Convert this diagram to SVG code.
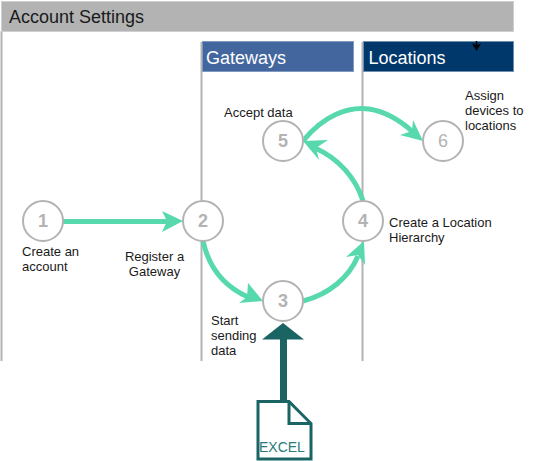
<svg xmlns="http://www.w3.org/2000/svg" width="557" height="461" viewBox="0 0 557 461">
<style>
text{font-family:"Liberation Sans",Arial,sans-serif}
.lane{stroke:#b3b3b3;stroke-width:2;fill:none}
.head{font-size:18px}
.lbl{font-size:13px;fill:#1a1a1a}
.circ{fill:#fff;stroke:#b3b3b3;stroke-width:2}
.num{font-size:18px;font-weight:bold;fill:#b3b3b3;text-anchor:middle}
.flow{fill:none;stroke:#57d9ad;stroke-width:5}
.tip{fill:#57d9ad}
</style>
<rect width="557" height="461" fill="#fff"/>
<g id="lanes">
<path class="lane" d="M1.500 31V361M201.500 42V361M362.500 42V361"/>
</g>
<g id="account-settings">
<rect x="1.500" y="1.500" width="512" height="30" fill="#b3b3b3" stroke="#cfcfcf"/>
<text class="head" x="9" y="23" fill="#1a1a1a">Account Settings</text>
</g>
<g id="gateways">
<rect x="202.500" y="41.500" width="151" height="30" fill="#43669f" stroke="#7f9abf"/>
<text class="head" x="206" y="64" fill="#fff">Gateways</text>
</g>
<g id="locations">
<rect x="363.500" y="41.500" width="150" height="30" fill="#00386b" stroke="#6f8fae"/>
<text class="head" x="368.500" y="64" fill="#fff">Locations</text>
<path d="M472 43.500L476.500 45L481 43.500L476.500 51Z" fill="#000"/>
<path d="M476.500 41v5" stroke="#000" stroke-width="1.500"/>
</g>
<g id="connectors">
<path class="flow" d="M63 221.500H168"/>
<path class="tip" d="M183 221L162 211L167 221L162 232Z"/>
<path class="flow" d="M203 241C209 268 223 286 248 297"/>
<path class="tip" d="M263 301L239 303L247 297L248 283Z"/>
<path class="flow" d="M303 301C330 294 349 277 358 256"/>
<path class="tip" d="M364 241L346 257L358 255L365 265Z"/>
<path class="flow" d="M363 201C356 178 338 158 315 148"/>
<path class="tip" d="M303 141L319 160L316 148L328 140Z"/>
<path class="flow" d="M303 141C323 116 348 106 369 109C388 112 402 122 413 132"/>
<path class="tip" d="M423 141L400 135L412 131L413 120Z"/>
<path fill="none" stroke="#1a6464" stroke-width="7" d="M283.500 339V401"/>
<path d="M283 323L304 339.500H262Z" fill="#1a6464"/>
</g>
<g id="node-1">
<circle class="circ" cx="43" cy="221" r="20"/>
<text class="num" x="43" y="227">1</text>
<text class="lbl"><tspan x="22" y="256">Create an</tspan><tspan x="22" y="271">account</tspan></text>
</g>
<g id="node-2">
<circle class="circ" cx="203" cy="221" r="20"/>
<text class="num" x="203" y="227">2</text>
<text class="lbl" text-anchor="middle"><tspan x="154.500" y="261">Register a</tspan><tspan x="154.500" y="276">Gateway</tspan></text>
</g>
<g id="node-3">
<circle class="circ" cx="283" cy="301" r="20"/>
<text class="num" x="283" y="307">3</text>
<text class="lbl"><tspan x="211" y="325">Start</tspan><tspan x="211" y="340">sending</tspan><tspan x="211" y="355">data</tspan></text>
</g>
<g id="node-4">
<circle class="circ" cx="363" cy="221" r="20"/>
<text class="num" x="363" y="227">4</text>
<text class="lbl"><tspan x="389" y="227">Create a Location</tspan><tspan x="389" y="242">Hierarchy</tspan></text>
</g>
<g id="node-5">
<circle class="circ" cx="283" cy="141" r="20"/>
<text class="num" x="283" y="147">5</text>
<text class="lbl" x="224" y="117">Accept data</text>
</g>
<g id="node-6">
<circle class="circ" cx="443" cy="141" r="20"/>
<text x="443" y="147" font-size="18" fill="#b3b3b3" text-anchor="middle">6</text>
<text class="lbl"><tspan x="465" y="100">Assign</tspan><tspan x="465" y="115">devices to</tspan><tspan x="465" y="130">locations</tspan></text>
</g>
<g id="excel">
<path d="M258 401.500H289L311 423.500V459H258Z" fill="#fff" stroke="#1a6464" stroke-width="3"/>
<path d="M289 401.500V423.500H311" fill="none" stroke="#1a6464" stroke-width="3"/>
<text x="259" y="452" font-size="14" fill="#2a7a7a">EXCEL</text>
</g>
</svg>
